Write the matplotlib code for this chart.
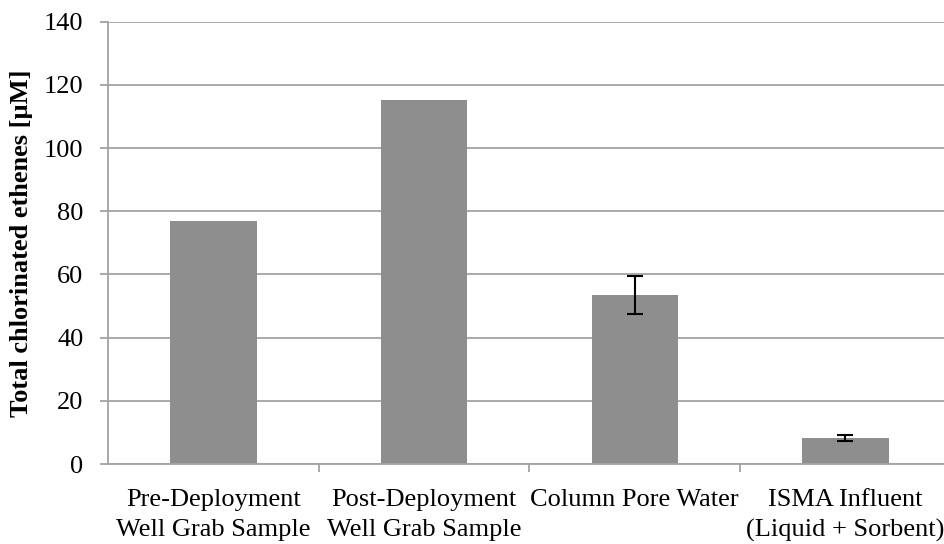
import matplotlib
matplotlib.use("Agg")
import matplotlib.pyplot as plt
import numpy as np

categories = ["Pre-Deployment\nWell Grab Sample", "Post-Deployment\nWell Grab Sample",
              "Column Pore Water", "ISMA Influent\n(Liquid + Sorbent)"]
values = [77.0, 115.3, 53.5, 8.2]
errors = [0.0, 0.0, 6.0, 1.0]
y_ticks = [0, 20, 40, 60, 80, 100, 120, 140]

plt.rcParams["font.family"] = ["Liberation Serif", "DejaVu Serif"]

fig = plt.figure(figsize=(9.45, 5.44), dpi=100)
ax = fig.add_axes([0.1143, 0.147, 0.8918, 0.813])

grid_col = "#a3a3a3"
x = np.arange(len(categories))
ax.bar(x, values, width=0.41, color="#8e8e8e", zorder=2)
err_idx = [i for i, e in enumerate(errors) if e > 0]
ax.errorbar([x[i] for i in err_idx], [values[i] for i in err_idx],
            yerr=[errors[i] for i in err_idx], fmt="none", ecolor="black",
            elinewidth=1.5, capsize=5.8, capthick=1.5, zorder=3)

ax.set_xlim(-0.5, len(categories) - 0.5)
ax.set_ylim(0, 140)
ax.set_yticks(y_ticks)
ax.set_yticklabels([str(t) for t in y_ticks], fontsize=19)
ax.yaxis.grid(True, color=grid_col, linewidth=1.3, zorder=0)
ax.set_axisbelow(True)

# category labels centred under the bars, ticks at the boundaries
ax.set_xticks(x)
ax.set_xticklabels(categories, fontsize=19, linespacing=1.45)
ax.tick_params(axis="x", length=0, pad=18)
ax.set_xticks(np.arange(0.5, len(categories) - 0.5, 1.0), minor=True)
ax.tick_params(axis="x", which="minor", length=5.5, color=grid_col, width=1.3)
ax.tick_params(axis="y", length=5.8, color=grid_col, width=1.3, pad=12)

for side in ("top", "right"):
    ax.spines[side].set_visible(False)
for side in ("left", "bottom"):
    ax.spines[side].set_color(grid_col)
    ax.spines[side].set_linewidth(1.3)

ax.set_ylabel("Total chlorinated ethenes [µM]", fontsize=19, fontweight="bold", labelpad=8)

fig.savefig("out.png", dpi=100)
